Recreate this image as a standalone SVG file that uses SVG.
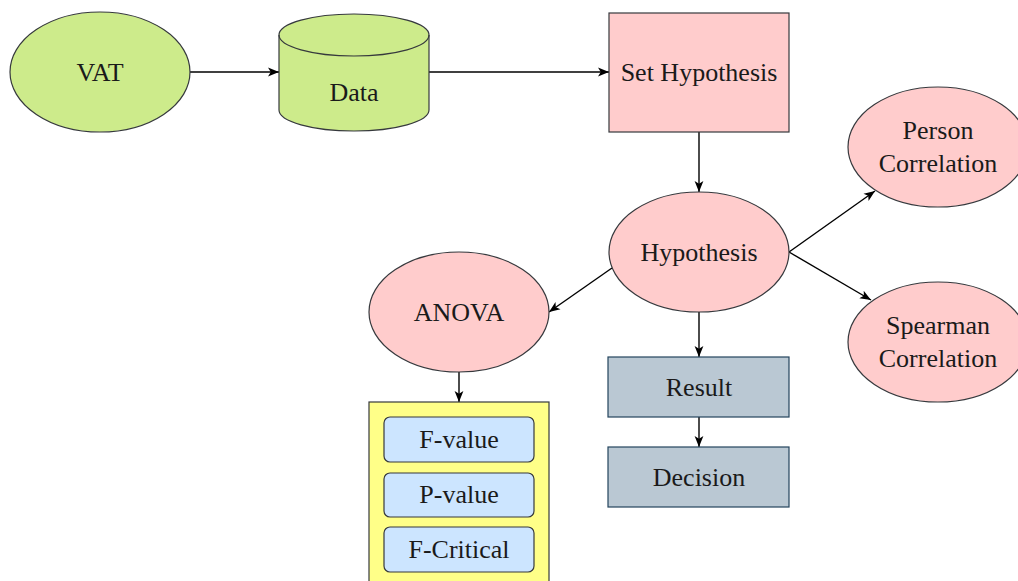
<svg xmlns="http://www.w3.org/2000/svg" width="1018" height="581" viewBox="0 0 1018 581">
<style>
  .green{fill:#cdeb8b;stroke:#36393d;stroke-width:1.2}
  .pink{fill:#ffcccc;stroke:#36393d;stroke-width:1.2}
  .gray{fill:#bac8d3;stroke:#23445d;stroke-width:1.2}
  .yellow{fill:#ffff88;stroke:#36393d;stroke-width:1.2}
  .blue{fill:#cce5ff;stroke:#36393d;stroke-width:1.2}
  text{font-size:26px;fill:#1a1a1a;text-anchor:middle}
  .edge{fill:none;stroke:#000;stroke-width:1.4;marker-end:url(#arr)}
</style>
<defs>
  <marker id="arr" viewBox="0 0 10 10" refX="10" refY="5" markerWidth="11" markerHeight="11" markerUnits="userSpaceOnUse" orient="auto">
    <path d="M0,1 L10,5 L0,9 L2.5,5 Z" fill="#000"/>
  </marker>
</defs>
<rect width="1018" height="581" fill="#fff"/>
<g id="edges">
  <path class="edge" d="M190,72 L279,72"/>
  <path class="edge" d="M429,72 L609,72"/>
  <path class="edge" d="M699,132 L699,192"/>
  <path class="edge" d="M789,252 L875,191"/>
  <path class="edge" d="M789,252 L871,300"/>
  <path class="edge" d="M612,268 L549,312"/>
  <path class="edge" d="M459,372 L459,402"/>
  <path class="edge" d="M699,312 L699,357"/>
  <path class="edge" d="M699,417 L699,447"/>
</g>
<g id="vat">
  <ellipse class="green" cx="100" cy="72" rx="90" ry="60"/>
  <text x="100" y="81" font-family="Liberation Serif">VAT</text>
</g>
<g id="data">
  <path class="green" d="M279,35 A75,21 0 0 1 429,35 L429,110 A75,21 0 0 1 279,110 Z"/>
  <path fill="none" stroke="#36393d" stroke-width="1.2" d="M279,35 A75,21 0 0 0 429,35"/>
  <text x="354" y="101" font-family="Liberation Serif">Data</text>
</g>
<g id="set-hypothesis">
  <rect class="pink" x="609" y="13" width="180" height="119"/>
  <text x="699" y="81" font-family="Liberation Serif">Set Hypothesis</text>
</g>
<g id="hypothesis">
  <ellipse class="pink" cx="699" cy="252" rx="90" ry="60"/>
  <text x="699" y="261" font-family="Liberation Serif">Hypothesis</text>
</g>
<g id="person-correlation">
  <ellipse class="pink" cx="938" cy="147" rx="90" ry="60"/>
  <text x="938" y="139" font-family="Liberation Serif">Person</text>
  <text x="938" y="172" font-family="Liberation Serif">Correlation</text>
</g>
<g id="spearman-correlation">
  <ellipse class="pink" cx="938" cy="342" rx="90" ry="60"/>
  <text x="938" y="334" font-family="Liberation Serif">Spearman</text>
  <text x="938" y="367" font-family="Liberation Serif">Correlation</text>
</g>
<g id="anova">
  <ellipse class="pink" cx="459" cy="312" rx="90" ry="60"/>
  <text x="459" y="321" font-family="Liberation Serif">ANOVA</text>
</g>
<g id="anova-values">
  <rect class="yellow" x="369" y="402" width="180" height="200"/>
  <g id="f-value">
    <rect class="blue" x="384" y="417" width="150" height="45" rx="6"/>
    <text x="459" y="448" font-family="Liberation Serif">F-value</text>
  </g>
  <g id="p-value">
    <rect class="blue" x="384" y="473" width="150" height="44" rx="6"/>
    <text x="459" y="503" font-family="Liberation Serif">P-value</text>
  </g>
  <g id="f-critical">
    <rect class="blue" x="384" y="527" width="150" height="45" rx="6"/>
    <text x="459" y="558" font-family="Liberation Serif">F-Critical</text>
  </g>
</g>
<g id="result">
  <rect class="gray" x="608" y="357" width="181" height="60"/>
  <text x="699" y="396" font-family="Liberation Serif">Result</text>
</g>
<g id="decision">
  <rect class="gray" x="608" y="447" width="181" height="60"/>
  <text x="699" y="486" font-family="Liberation Serif">Decision</text>
</g>
</svg>
